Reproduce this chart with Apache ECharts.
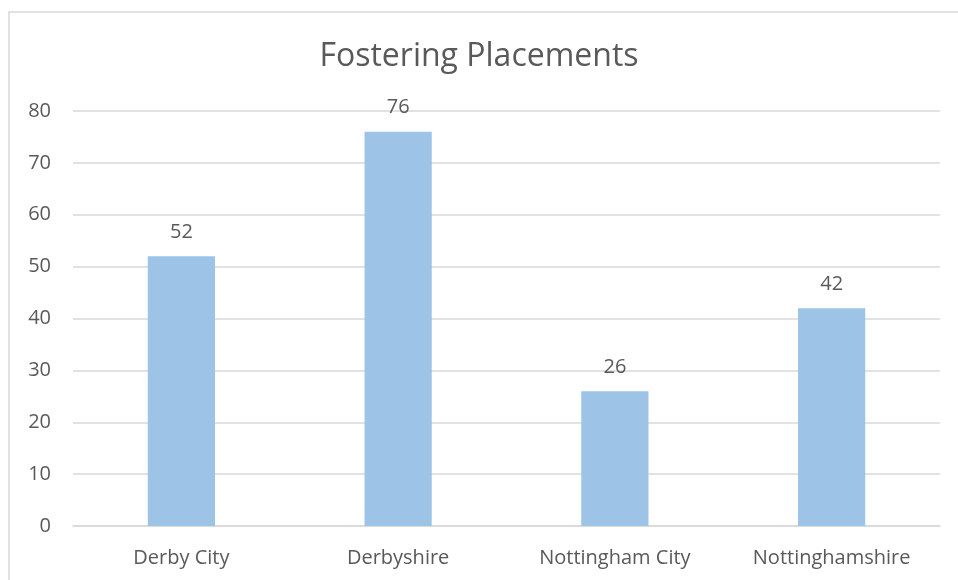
<!DOCTYPE html>
<html>
<head>
<meta charset="utf-8">
<title>Fostering Placements</title>
<script src="https://cdn.jsdelivr.net/npm/echarts@6/dist/echarts.min.js"></script>
<style>
  html, body { margin: 0; padding: 0; background: #fff; }
  #chart { width: 958px; height: 580px; }
</style>
</head>
<body>
<div id="chart"></div>
<script>
// 数据
const categories = ['Derby City', 'Derbyshire', 'Nottingham City', 'Nottinghamshire'];
const placements = [52, 76, 26, 42];

const chart = echarts.init(document.getElementById('chart'));
const textColor = '#595959';
const fontFamily = 'Open Sans, Liberation Sans, sans-serif';

const option = {
    animation: false,
    textStyle: { fontFamily: fontFamily },
    title: {
        text: 'Fostering Placements',
        left: 'center',
        top: 36,
        textStyle: {
            color: textColor,
            fontSize: 32,
            fontWeight: 'normal',
            fontFamily: fontFamily
        }
    },
    // 外边框
    graphic: [{
        type: 'rect',
        shape: { x: 9, y: 12, width: 960, height: 580 },
        style: { fill: 'none', stroke: '#d9d9d9', lineWidth: 1.5 },
        silent: true
    }],
    grid: {
        left: 73,
        right: 18,
        top: 111,
        bottom: 54
    },
    xAxis: {
        type: 'category',
        data: categories,
        axisLine: { lineStyle: { color: '#d9d9d9', width: 1.5 } },
        axisTick: { show: false },
        axisLabel: {
            color: textColor,
            fontSize: 20,
            margin: 22
        }
    },
    yAxis: {
        type: 'value',
        min: 0,
        max: 80,
        interval: 10,
        axisLine: { show: false },
        axisTick: { show: false },
        axisLabel: {
            color: textColor,
            fontSize: 20,
            margin: 22
        },
        splitLine: {
            lineStyle: { color: '#d9d9d9', width: 1.5 }
        }
    },
    series: [{
        type: 'bar',
        data: placements,
        barWidth: '31%',
        itemStyle: { color: '#9dc3e6' },
        label: {
            show: true,
            position: 'top',
            distance: 14,
            color: textColor,
            fontSize: 20
        }
    }]
};

chart.setOption(option);
</script>
</body>
</html>
